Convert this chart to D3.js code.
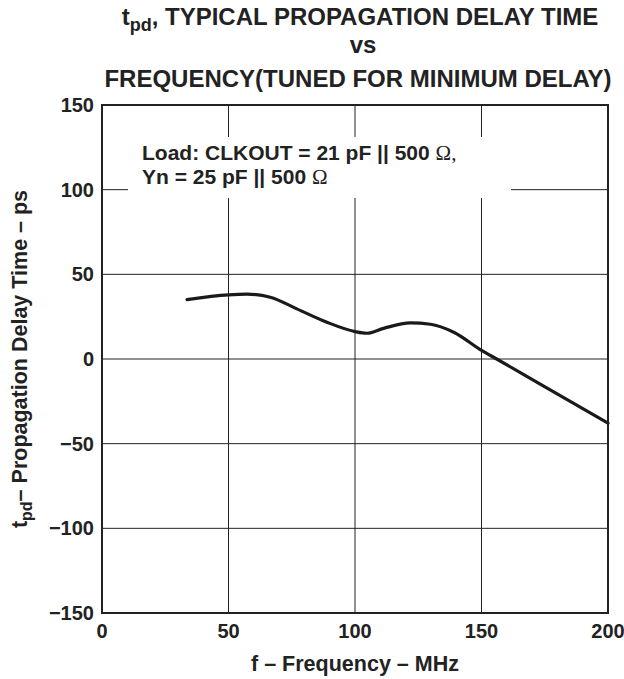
<!DOCTYPE html>
<html>
<head>
<meta charset="utf-8">
<script src="https://cdn.jsdelivr.net/npm/d3@7"></script>
<style>
  body { margin: 0; background: #fff; }
  svg { display: block; font-family: "Liberation Sans", Arial, sans-serif; font-weight: bold; }
</style>
</head>
<body>
<svg id="chart"></svg>
<script>
const width = 624;
const height = 679;

// curve
const freq  = [33.6, 50, 57.3, 66.5, 77, 88.9, 100, 104.7, 111.3, 121.9, 129.8, 139, 150.2, 156, 172, 200];
const delay = [35.1, 37.9, 38.3, 36.5, 29.6, 21.7, 16.2, 15.2, 18.1, 21.3, 20.5, 15.8, 4.9, 0, -13.8, -37.9];

const xTicks = [0, 50, 100, 150, 200];
const yTicks = [-150, -100, -50, 0, 50, 100, 150];

const margin = {top: 105, right: 16, bottom: 66, left: 102};

const svg = d3.select("#chart")
  .attr("width", width)
  .attr("height", height);

const x = d3.scaleLinear().domain([0, 200]).range([margin.left, width - margin.right]);
const y = d3.scaleLinear().domain([-150, 150]).range([height - margin.bottom, margin.top]);

// grid
svg.append("g")
  .attr("stroke", "#222")
  .attr("stroke-width", 1)
  .call(g => g.selectAll(".v").data(xTicks.slice(1, -1)).join("line")
    .attr("x1", d => x(d)).attr("x2", d => x(d))
    .attr("y1", y(150)).attr("y2", y(-150)))
  .call(g => g.selectAll(".h").data(yTicks.slice(1, -1)).join("line")
    .attr("y1", d => y(d)).attr("y2", d => y(d))
    .attr("x1", x(0)).attr("x2", x(200)));

// white box behind the load note
svg.append("rect")
  .attr("x", 128).attr("y", 137)
  .attr("width", 383).attr("height", 61)
  .attr("fill", "#fff");

const note = svg.append("text")
  .attr("font-size", 21)
  .attr("fill", "#222");
note.append("tspan").attr("x", 142).attr("y", 160).text("Load: CLKOUT = 21 pF || 500 ")
  .append("tspan").attr("font-family", "'Liberation Serif', serif").attr("font-weight", "normal").text("Ω,");
note.append("tspan").attr("x", 142).attr("y", 184).text("Yn = 25 pF || 500 ")
  .append("tspan").attr("font-family", "'Liberation Serif', serif").attr("font-weight", "normal").text("Ω");

// curve
const line = d3.line()
  .x((d, i) => x(freq[i]))
  .y(d => y(d))
  .curve(d3.curveMonotoneX);

svg.append("path")
  .datum(delay)
  .attr("fill", "none")
  .attr("stroke", "#1a1a1a")
  .attr("stroke-width", 3.2)
  .attr("stroke-linejoin", "round")
  .attr("stroke-linecap", "round")
  .attr("d", line);

// frame
svg.append("rect")
  .attr("x", x(0)).attr("y", y(150))
  .attr("width", x(200) - x(0)).attr("height", y(-150) - y(150))
  .attr("fill", "none")
  .attr("stroke", "#222")
  .attr("stroke-width", 2);

// axes labels
const fmt = d => d < 0 ? "\u2212" + Math.abs(d) : String(d);

svg.append("g")
  .attr("font-size", 20)
  .attr("fill", "#222")
  .attr("text-anchor", "middle")
  .selectAll("text").data(xTicks).join("text")
    .attr("x", d => x(d))
    .attr("y", 638)
    .text(fmt);

svg.append("g")
  .attr("font-size", 20)
  .attr("fill", "#222")
  .attr("text-anchor", "end")
  .selectAll("text").data(yTicks).join("text")
    .attr("x", 94)
    .attr("y", d => y(d) + 7)
    .text(fmt);

svg.append("text")
  .attr("x", (x(0) + x(200)) / 2)
  .attr("y", 671)
  .attr("text-anchor", "middle")
  .attr("font-size", 21.5)
  .attr("fill", "#222")
  .text("f \u2013 Frequency \u2013 MHz");

const yTitle = svg.append("text")
  .attr("transform", `translate(27, ${(y(150) + y(-150)) / 2}) rotate(-90)`)
  .attr("text-anchor", "middle")
  .attr("font-size", 21.5)
  .attr("fill", "#222");
yTitle.append("tspan").text("t");
yTitle.append("tspan").attr("font-size", 16).attr("dy", 5).text("pd");
yTitle.append("tspan").attr("dy", -5).text("\u2013 Propagation Delay Time \u2013 ps");

// title
const title = svg.append("g")
  .attr("font-size", 24)
  .attr("fill", "#222")
  .attr("text-anchor", "middle");
const t1 = title.append("text").attr("x", 360).attr("y", 25);
t1.append("tspan").text("t");
t1.append("tspan").attr("font-size", 18).attr("dy", 6).text("pd");
t1.append("tspan").attr("dy", -6).text(", TYPICAL PROPAGATION DELAY TIME");
title.append("text").attr("x", 363).attr("y", 53).text("vs");
title.append("text").attr("x", 358).attr("y", 87).text("FREQUENCY(TUNED FOR MINIMUM DELAY)");
</script>
</body>
</html>
